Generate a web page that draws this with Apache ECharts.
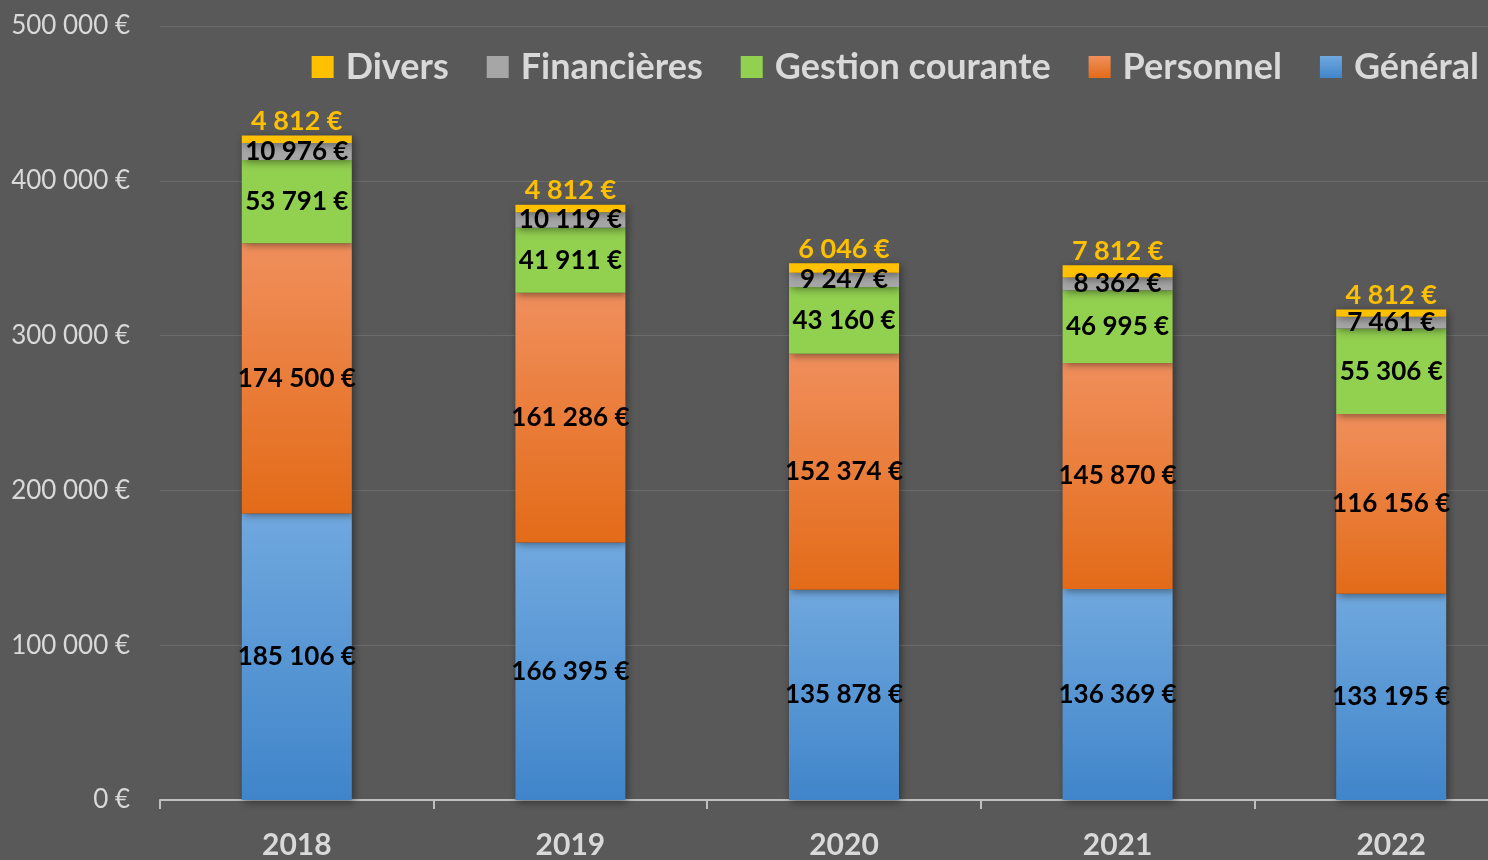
<!DOCTYPE html>
<html style="height: 100%">
<head>
    <meta charset="utf-8">
    <script src="https://cdn.jsdelivr.net/npm/echarts@6/dist/echarts.min.js"></script>
</head>
<body style="height: 100%; margin: 0; background: #595959">
    <div id="main" style="width:1488px; height:860px;"></div>
    <script type="text/javascript">
        // données
        var annees = ['2018', '2019', '2020', '2021', '2022'];
        var general = [185106, 166395, 135878, 136369, 133195];
        var personnel = [174500, 161286, 152374, 145870, 116156];
        var gestion = [53791, 41911, 43160, 46995, 55306];
        var financieres = [10976, 10119, 9247, 8362, 7461];
        var divers = [4812, 4812, 6046, 7812, 4812];

        function euros(v) {
            return String(v).replace(/\B(?=(\d{3})+(?!\d))/g, ' ') + ' €';
        }

        var font = 'Lato, "Open Sans", sans-serif';
        var ombre = {shadowColor: 'rgba(0,0,0,0.45)', shadowBlur: 8, shadowOffsetX: 2, shadowOffsetY: 2};

        function degrade(haut, bas) {
            return new echarts.graphic.LinearGradient(0, 0, 0, 1, [
                {offset: 0, color: haut}, {offset: 1, color: bas}
            ]);
        }

        function serie(nom, data, couleur, label) {
            return {
                name: nom,
                type: 'bar',
                stack: 'total',
                barWidth: 110,
                data: data,
                itemStyle: Object.assign({color: couleur}, ombre),
                label: Object.assign({
                    show: true,
                    position: 'inside',
                    color: '#000',
                    fontFamily: font,
                    fontWeight: 'bold',
                    fontSize: 26,
                    formatter: function (p) { return euros(p.value); }
                }, label || {})
            };
        }

        var myChart = echarts.init(document.getElementById('main'));
        var option = {
            backgroundColor: '#595959',
            textStyle: {fontFamily: font},
            legend: {
                data: ['Divers', 'Financières', 'Gestion courante', 'Personnel', 'Général'],
                right: 4,
                top: 44,
                icon: 'rect',
                itemWidth: 22,
                itemHeight: 22,
                itemGap: 38,
                textStyle: {color: '#d9d9d9', fontSize: 36, fontWeight: 'bold', fontFamily: font, padding: [0, 0, 0, 7]}
            },
            grid: {left: 160, right: -40, top: 26, bottom: 60, outerBoundsMode: 'none'},
            xAxis: {
                type: 'category',
                data: annees,
                axisLine: {lineStyle: {color: '#bfbfbf', width: 2}},
                axisTick: {show: true, length: 9, lineStyle: {color: '#bfbfbf', width: 2}},
                axisLabel: {color: '#d9d9d9', fontSize: 30, fontWeight: 'bold', margin: 30}
            },
            yAxis: {
                type: 'value',
                min: 0,
                max: 500000,
                interval: 100000,
                axisLine: {show: false},
                axisTick: {show: false},
                splitLine: {lineStyle: {color: '#6c6c6c', width: 1}},
                axisLabel: {color: '#d9d9d9', fontSize: 26, margin: 30, formatter: euros}
            },
            series: [
                serie('Général', general, degrade('#70a8de', '#4085ca')),
                serie('Personnel', personnel, degrade('#f08f5c', '#e36b18')),
                serie('Gestion courante', gestion, '#92d050'),
                serie('Financières', financieres, '#a6a6a6'),
                serie('Divers', divers, '#ffc000', {position: 'top', color: '#ffc000', fontSize: 27, distance: 1})
            ]
        };
        myChart.setOption(option);
    </script>
</body>
</html>
